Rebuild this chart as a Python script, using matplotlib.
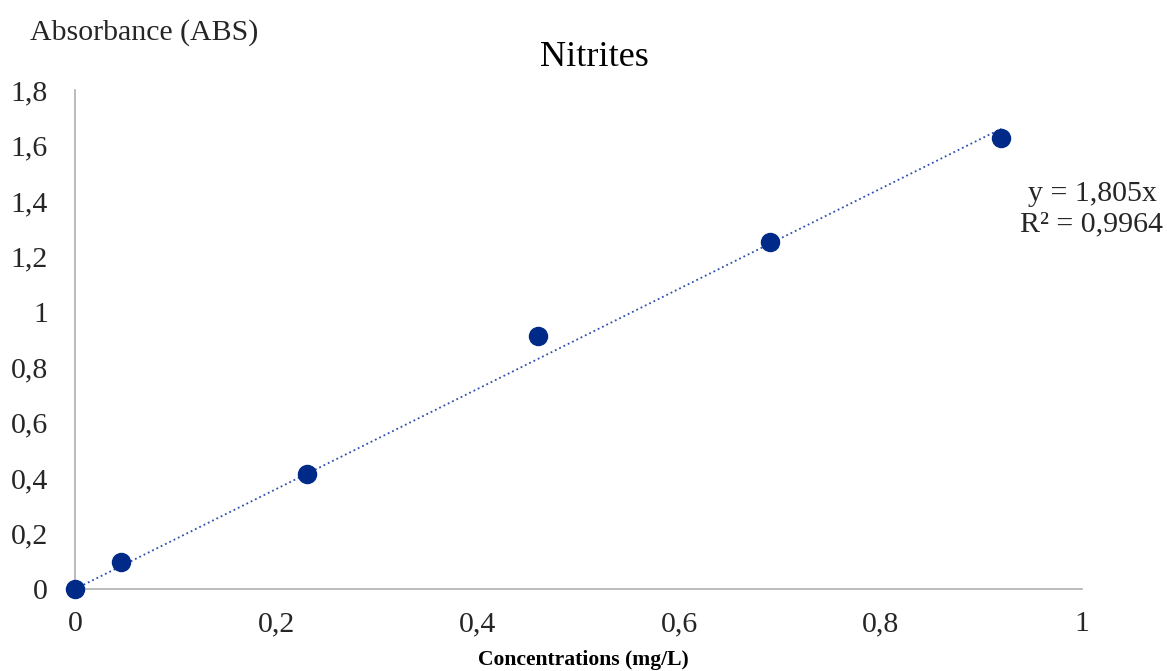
import matplotlib
matplotlib.use('Agg')
import matplotlib.pyplot as plt
from matplotlib.ticker import FuncFormatter, MultipleLocator
import numpy as np

plt.rcParams['font.family'] = ['Liberation Serif', 'DejaVu Serif']

# Datos
concentraciones = [0, 0.046, 0.23, 0.46, 0.69, 0.92]
absorbancias = [0, 0.097, 0.415, 0.912, 1.253, 1.628]
pendiente = 1.805
r2_texto = '0,9964'


def coma(v, pos):
    return ('%g' % round(v, 2)).replace('.', ',')


fig = plt.figure(figsize=(11.67, 6.71), dpi=100)
ax = fig.add_axes([0.0643, 0.1222, 0.8628, 0.7437])

# Linea de tendencia (pasa por el origen)
xt = np.array([0, max(concentraciones)])
ax.plot(xt, pendiente * xt, linestyle=':', color='#2f4fb0', linewidth=1.3, zorder=2)

ax.plot(concentraciones, absorbancias, 'o', color='#002a88', markersize=13,
        clip_on=False, zorder=3)

ax.set_xlim(0, 1)
ax.set_ylim(0, 1.8)
ax.xaxis.set_major_locator(MultipleLocator(0.2))
ax.yaxis.set_major_locator(MultipleLocator(0.2))
ax.xaxis.set_major_formatter(FuncFormatter(coma))
ax.yaxis.set_major_formatter(FuncFormatter(coma))
ax.tick_params(length=0, labelsize=21.5, colors='#262626')
ax.tick_params(axis='x', pad=16)
ax.tick_params(axis='y', pad=19.5)

for lado in ['top', 'right']:
    ax.spines[lado].set_visible(False)
for lado in ['left', 'bottom']:
    ax.spines[lado].set_color('#b0b0b0')
    ax.spines[lado].set_linewidth(1.2)

fig.text(0.509, 0.914, 'Nitrites', ha='center', va='center', fontsize=26)
fig.text(0.026, 0.952, 'Absorbance (ABS)', ha='left', va='center', fontsize=21.5, color='#262626')
fig.text(0.5, 0.016, 'Concentrations (mg/L)', ha='center', va='center', fontsize=15.6,
         fontweight='bold')
fig.text(0.997, 0.688, 'y = 1,805x\nR² = ' + r2_texto, ha='right', va='center',
         multialignment='center', fontsize=21.5, linespacing=1.25, color='#262626')

fig.savefig('out.png', dpi=100)
